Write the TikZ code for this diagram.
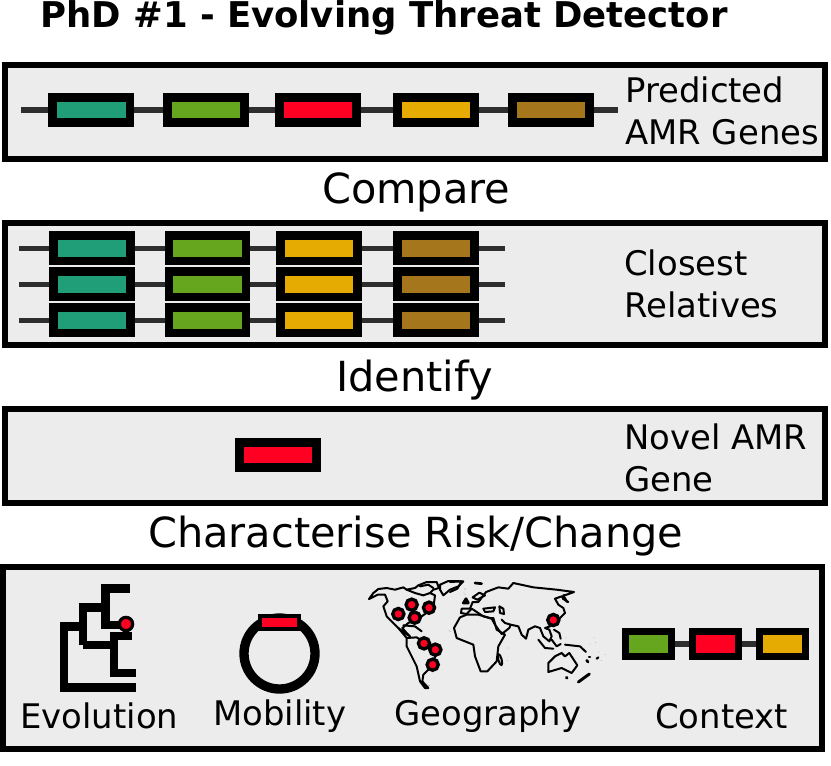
\documentclass[tikz,border=0pt]{standalone}
\usepackage{fontspec}
\setmainfont{DejaVu Sans}
\definecolor{gteal}{HTML}{1F9E77}
\definecolor{ggreen}{HTML}{66A61E}
\definecolor{gred}{HTML}{FF0022}
\definecolor{gorange}{HTML}{E6AB02}
\definecolor{gbrown}{HTML}{A6761D}
\definecolor{panelgray}{HTML}{ECECEC}
\tikzset{
 panel/.style={draw=black,fill=panelgray,line width=4.6pt},
 gene/.style={draw=black,line width=6.4pt,minimum width=58pt,minimum height=19pt,inner sep=0pt,fill=#1},
 smallgene/.style={draw=black,line width=5.2pt,minimum width=34.5pt,minimum height=18.75pt,inner sep=0pt,fill=#1},
 link/.style={draw=black!82,line width=3.9pt},
 biglabel/.style={font=\fontsize{31.1pt}{36pt}\selectfont,anchor=base west,inner sep=0pt},
 txtlabel/.style={font=\fontsize{25.4pt}{30pt}\selectfont,anchor=base west,inner sep=0pt},
 titlelabel/.style={font=\fontsize{26.6pt}{30pt}\selectfont\bfseries,anchor=base west,inner sep=0pt},
 tree/.style={draw=black,line width=6.3pt,line cap=butt,line join=miter},
 mapdot/.style={draw=black,line width=2.5pt,fill=gred,circle,minimum size=8.4pt,inner sep=0pt},
 treedot/.style={draw=black,line width=2.4pt,fill=gred,circle,minimum size=10pt,inner sep=0pt},
 coast/.style={draw=black,line width=1.5pt,line join=round,line cap=round},
 speck/.style={fill=black!50,draw=none},
 dark/.style={fill=black,draw=none}
}
\begin{document}
\begin{tikzpicture}[x=0.75pt,y=-0.75pt]
\useasboundingbox (0,0) rectangle (831,765);
% panels
\draw[panel] (4.7,65.2) rectangle (825.2,159.3);
\draw[panel] (4.7,223.3) rectangle (825.3,345.2);
\draw[panel] (4.7,409) rectangle (825.3,503);
\draw[panel] (3,567) rectangle (821.7,748.7);
% titles
\node[titlelabel] (title) at (40,27) {PhD \#1 - Evolving Threat Detector};
\node[biglabel] (compare) at (322,203) {Compare};
\node[biglabel] (identify) at (336,391) {Identify};
\node[biglabel] (charac) at (148,547) {Characterise Risk/Change};
% panel 1
\coordinate (p1l) at (21,110);
\coordinate (p1r) at (618,110);
\draw[link] (p1l) -- (p1r);
\node[gene=gteal] (a1) at (91.3,110) {};
\node[gene=ggreen] (a2) at (206,110) {};
\node[gene=gred] (a3) at (318,110) {};
\node[gene=gorange] (a4) at (436,110) {};
\node[gene=gbrown] (a5) at (551,110) {};
\node[txtlabel] (l1) at (625,102) {Predicted};
\node[txtlabel] (l2) at (625,144) {AMR Genes};
% panel 2
\foreach \r/\y in {1/248.3,2/284.3,3/320.3}{
 \coordinate (r\r l) at (19,\y);
 \coordinate (r\r r) at (505,\y);
 \draw[link] (r\r l) -- (r\r r);
 \node[gene=gteal] (b\r1) at (92,\y) {};
 \node[gene=ggreen] (b\r2) at (207.5,\y) {};
 \node[gene=gorange] (b\r3) at (319,\y) {};
 \node[gene=gbrown] (b\r4) at (436,\y) {};
}
\node[txtlabel] (l3) at (624,275) {Closest};
\node[txtlabel] (l4) at (624,317) {Relatives};
% panel 3
\node[gene=gred] (c1) at (278,455) {};
\node[txtlabel] (l5) at (624,449) {Novel AMR};
\node[txtlabel] (l6) at (624,491) {Gene};
% tree
\draw[tree] (136,687.5) -- (64,687.5) -- (64,626.5) -- (83,626.5);
\draw[tree] (83,645) -- (83,607.5) -- (105.5,607.5);
\draw[tree] (129.5,588.5) -- (105.5,588.5) -- (105.5,625) -- (126,625);
\draw[tree] (83,645) -- (114,645);
\draw[tree] (131.5,636) -- (114,636) -- (114,673) -- (136,673);
\node[treedot] (tp) at (126,624) {};
\node[txtlabel] (l7) at (20,728) {Evolution};
% mobility
\draw[draw=black,line width=7pt] (279.5,653.5) circle (35.5);
\node[draw=black,line width=3pt,fill=gred,minimum width=29.5pt,minimum height=10pt,inner sep=0pt] (mg) at (279.5,622.5) {};
\node[txtlabel] (l8) at (213,725) {Mobility};
% map, west
\begin{scope}[shift={(365,578)},x=0.25pt,y=-0.25pt]
 \draw[coast] (12,63) -- (25,45) -- (40,33) -- (65,30) -- (90,35) -- (115,28) -- (125,35) -- (150,30) -- (160,22) -- (185,12) -- (215,12) -- (222,30) -- (205,35) -- (195,45) -- (210,52) -- (205,90) -- (170,115) -- (130,135) -- (112,150) -- (125,165) -- (135,175) -- (118,165) -- (100,150) -- (85,135) -- (65,115) -- (55,85) -- (68,70) -- (60,50) -- (38,50) -- cycle;
 \draw[coast] (125,35) -- (150,45) -- (175,52) -- (195,45);
 \draw[coast] (165,25) -- (190,20) -- (205,30);
 \draw[coast] (225,20) -- (250,9) -- (295,10) -- (280,25) -- (255,35) -- (235,52) -- (225,35) -- cycle;
 \draw[coast] (115,142) -- (150,145) -- (170,160);
 \draw[coast] (100,150) -- (125,180) -- (155,178) -- (165,185) -- (190,200) -- (220,215) -- (195,270) -- (175,290) -- (172,310) -- (190,330) -- (180,330) -- (165,310) -- (155,265) -- (140,235) -- (125,205) -- (125,180);
 \fill[dark] (192,322) circle (1.2);
 \fill[speck] (300,35) circle (1);
 \fill[speck] (300,50) circle (1);
 \fill[speck] (252,158) circle (1.2);
 \node[mapdot] (m1) at (100,108) {};
 \node[mapdot] (m2) at (140,80) {};
 \node[mapdot] (m3) at (192,89) {};
 \node[mapdot] (m4) at (149,119) {};
 \node[mapdot] (m5) at (177,196) {};
 \node[mapdot] (m6) at (211,215) {};
 \node[mapdot] (m7) at (203,260) {};
\end{scope}
% map, east
\begin{scope}[shift={(450,578)},x=0.25pt,y=-0.25pt]
 % africa
 \draw[coast] (30,118) -- (50,110) -- (85,110) -- (120,120) -- (130,120) -- (140,155) -- (165,170) -- (145,205) -- (140,250) -- (112,280) -- (92,280) -- (75,235) -- (70,200) -- (45,190) -- (20,180) -- (12,150) -- cycle;
 % europe and asia
 \draw[coast] (33,105) -- (35,92) -- (60,92) -- (68,72) -- (85,72) -- (108,42) -- (145,28) -- (175,32) -- (190,15) -- (250,28) -- (320,35) -- (372,42) -- (350,50) -- (340,52) -- (352,72) -- (335,55) -- (315,62) -- (325,80) -- (340,90) -- (345,105) -- (330,120) -- (300,145) -- (285,150) -- (298,155) -- (305,175) -- (298,190) -- (280,175) -- (270,150) -- (255,145) -- (235,155) -- (228,182) -- (215,170) -- (205,145) -- (182,140) -- (178,150) -- (155,168) -- (135,140) -- (125,122);
 \draw[coast] (155,125) -- (165,135) -- (182,140);
 \draw[coast] (33,105) -- (50,108) -- (65,92) -- (85,105) -- (100,115) -- (125,122);
 \draw[coast] (100,92) -- (135,88) -- (130,100) -- (105,102) -- cycle;
 \draw[coast] (148,85) -- (160,92) -- (162,108) -- (150,105) -- cycle;
 % uk, scandinavia, svalbard, greenland end
 \draw[coast,line width=2pt] (40,75) -- (48,62) -- (55,75) -- cycle;
 \draw[coast] (68,58) -- (88,44) -- (105,52) -- (82,65) -- cycle;
 \draw[coast,line width=2pt] (75,15) -- (95,17);
 \draw[coast] (0,12) -- (35,10) -- (22,32) -- (0,42);
 % islands
 \draw[coast] (312,155) -- (328,165) -- (332,182);
 \draw[coast] (265,185) -- (285,210) -- (310,212);
 \draw[coast] (305,185) -- (320,205) -- (332,198);
 \draw[coast] (345,200) -- (390,205) -- (408,222);
 \draw[coast] (338,62) -- (355,72);
 % madagascar
 \draw[coast,rotate around={15:(150,245)}] (150,245) ellipse (5 and 17);
 % australia
 \draw[coast] (295,255) -- (315,235) -- (335,225) -- (345,235) -- (358,225) -- (382,262) -- (365,285) -- (335,270) -- (295,282) -- cycle;
 \draw[coast,line width=2.2pt] (349,298) -- (351,300);
 \draw[coast,line width=2.2pt] (385,312) -- (418,288);
 \draw[coast,line width=2pt] (410,247) -- (414,252);
 \draw[coast,line width=1.6pt] (417,237) -- (420,237);
 \draw[coast,line width=1.6pt] (440,242) -- (445,238);
 \foreach \sx/\sy in {45/32,42/45,2/160,65/195,175/210,173/248,348/180,432/180,437/193,420/198,446/222,465/230,455/247}{
  \fill[speck] (\sx,\sy) circle (1.1);
 }
 \node[mapdot] (m8) at (310,126) {};
\end{scope}
\node[txtlabel] (l9) at (394,725) {Geography};
% context
\coordinate (cl) at (660,644);
\coordinate (cr) at (770,644);
\draw[link] (cl) -- (cr);
\node[smallgene=ggreen] (d1) at (648.3,644) {};
\node[smallgene=gred] (d2) at (715.5,644) {};
\node[smallgene=gorange] (d3) at (782.5,644) {};
\node[txtlabel] (l10) at (655,728) {Context};
\end{tikzpicture}
\end{document}
